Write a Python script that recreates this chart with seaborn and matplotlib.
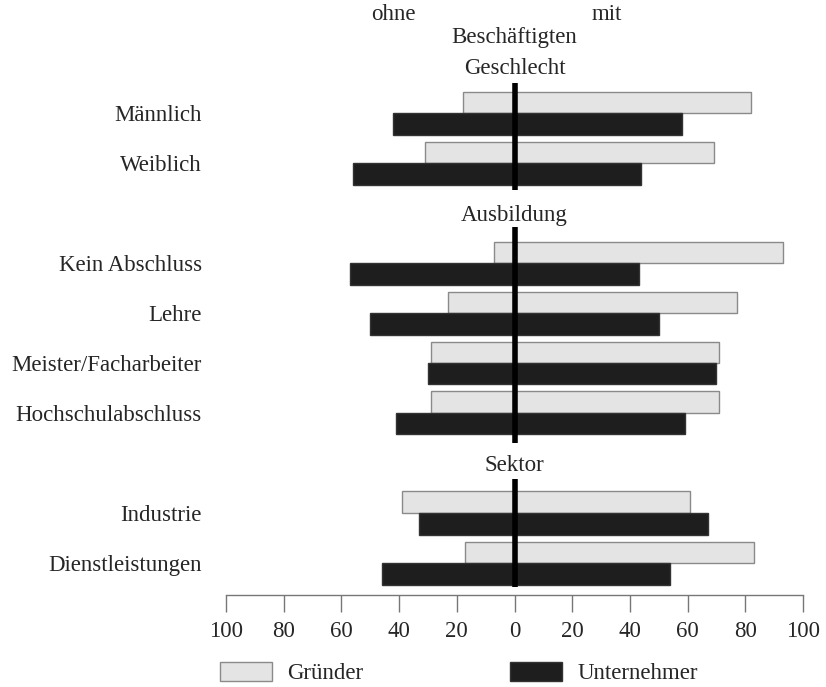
import pandas as pd
import matplotlib.pyplot as plt
import seaborn as sns

# Zeilen (Überschriften ohne Balken)
rows = ["Geschlecht", "Männlich", "Weiblich",
        "Ausbildung", "Kein Abschluss", "Lehre", "Meister/Facharbeiter", "Hochschulabschluss",
        "Sektor", "Industrie", "Dienstleistungen"]
headers = ["Geschlecht", "Ausbildung", "Sektor"]
categories = ["Männlich", "Weiblich", "Kein Abschluss", "Lehre",
              "Meister/Facharbeiter", "Hochschulabschluss", "Industrie", "Dienstleistungen"]
groups = ["Gründer", "Unternehmer"]

# Anteile in % : ohne / mit Beschäftigten
gruender_ohne = [18, 31, 7, 23, 29, 29, 39, 17]
gruender_mit = [82, 69, 93, 77, 71, 71, 61, 83]
unternehmer_ohne = [42, 56, 57, 50, 30, 41, 33, 46]
unternehmer_mit = [58, 44, 43, 50, 70, 59, 67, 54]

xticks = [-100, -80, -60, -40, -20, 0, 20, 40, 60, 80, 100]

colors = {"Gründer": "#e4e4e4", "Unternehmer": "#1e1e1e"}
edges = {"Gründer": "#8a8a8a", "Unternehmer": "#333333"}
FS = 16.5

df = pd.DataFrame({
    "Kategorie": categories * 2,
    "Gruppe": ["Gründer"] * len(categories) + ["Unternehmer"] * len(categories),
    "ohne": [-v for v in gruender_ohne + unternehmer_ohne],
    "mit": gruender_mit + unternehmer_mit,
})

sns.set_style("white")
plt.rcParams["font.family"] = ["Liberation Serif", "DejaVu Serif"]

fig = plt.figure(figsize=(8.26, 6.87), dpi=100)
ax = fig.add_axes([226 / 826, 1 - 595 / 687, 577 / 826, 595 / 687])

for col, show_leg in [("ohne", False), ("mit", True)]:
    sns.barplot(data=df, x=col, y="Kategorie", hue="Gruppe", order=rows,
                hue_order=groups, palette=colors, orient="h", width=0.86,
                linewidth=1, errorbar=None, legend=show_leg, ax=ax)

for p in ax.patches:
    fc = p.get_facecolor()
    dark = fc[0] < 0.5
    p.set_edgecolor(edges["Unternehmer"] if dark else edges["Gründer"])

# dicke Nulllinie, je Abschnitt unterbrochen
for y0, y1 in [(0.4, 2.54), (3.28, 7.6), (8.32, 10.48)]:
    ax.vlines(0, y0, y1, color="black", linewidth=4, zorder=5)

ax.set_xlim(-100, 100)
ax.set_ylim(10.64, -1.26)

pos = {name: i for i, name in enumerate(rows)}
ax.set_yticks([pos[c] for c in categories])
ax.set_yticklabels(categories, fontsize=FS)
ax.tick_params(axis="y", left=False, pad=14)

ax.set_xticks(xticks)
ax.set_xticklabels([str(abs(t)) for t in xticks], fontsize=FS)
ax.tick_params(axis="x", direction="out", length=12, width=1, color="#777777",
               pad=7, bottom=True)
ax.set_xlabel("")
ax.set_ylabel("")

for s in ["top", "left", "right"]:
    ax.spines[s].set_visible(False)
ax.spines["bottom"].set_color("#777777")
ax.spines["bottom"].set_linewidth(1)

# Überschriften
for h in headers:
    y = pos[h] + (0.1 if h == "Geschlecht" else 0.05)
    ax.text(0, y, h, ha="center", va="center", fontsize=FS, zorder=6)
ax.text(0, -0.5, "Beschäftigten", ha="center", va="center", fontsize=FS)
ax.text(-42, -0.96, "ohne", ha="center", va="center", fontsize=FS)
ax.text(32, -0.96, "mit", ha="center", va="center", fontsize=FS)

sns.move_legend(ax, loc="center left", bbox_to_anchor=(-0.0104, -0.131), ncol=2,
                title=None, frameon=False, fontsize=FS, borderaxespad=0, borderpad=0,
                handlelength=2.25, handleheight=0.88, handletextpad=0.7,
                columnspacing=6.4)
leg = ax.get_legend()
for patch, g in zip(leg.get_patches(), groups):
    patch.set_edgecolor(edges[g])
    patch.set_linewidth(1)

fig.savefig("out.png", dpi=100)
